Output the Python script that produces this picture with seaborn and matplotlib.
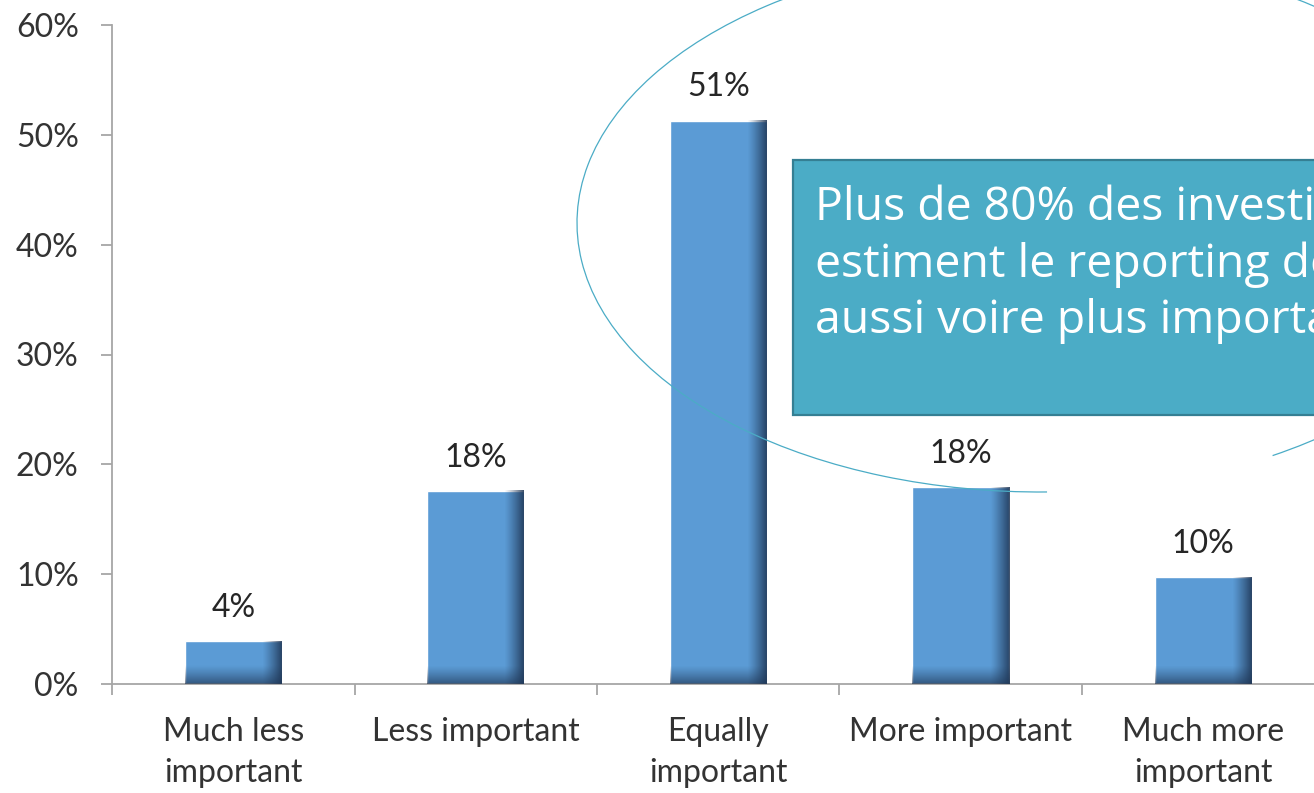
import numpy as np
import matplotlib
matplotlib.use('Agg')
import matplotlib.pyplot as plt
import seaborn as sns
from matplotlib.patches import Arc, Rectangle
from matplotlib.ticker import PercentFormatter, FixedLocator

# data
categories = ['Much less\nimportant', 'Less important', 'Equally\nimportant',
              'More important', 'Much more\nimportant']
shares = [3.9, 17.6, 51.3, 17.9, 9.7]
share_labels = ['4%', '18%', '51%', '18%', '10%']
y_ticks = [0, 10, 20, 30, 40, 50, 60]
callout_lines = ['Plus de 80% des investisseurs',
                 'estiment le reporting de durabilité',
                 'aussi voire plus important']

sns.set_style('white')
plt.rcParams['font.family'] = ['Lato', 'DejaVu Sans']

W, H = 1314, 793
fig = plt.figure(figsize=(W / 100, H / 100), dpi=100)
ax = fig.add_axes([112 / W, (H - 684) / H, (W - 112) / W, 659 / H])

bar_blue = '#5B9BD5'
sns.barplot(x=categories, y=shares, color=bar_blue, saturation=1,
            width=0.4, ax=ax, zorder=2)

ax.set_ylim(0, 60)
xlim = (-0.5, -0.5 + (W - 112) / 242.5)
ax.set_xlim(*xlim)

# shading on the right edge and the base of each bar
ax.figure.canvas.draw()
for p in ax.patches:
    bb = p.get_window_extent()
    nx, ny = max(int(bb.width), 2), max(int(bb.height), 2)
    dr = (nx - 1 - np.arange(nx))[None, :].astype(float)
    db = np.arange(ny)[:, None].astype(float)
    a_r = np.clip(1 - dr / 19, 0, 1) ** 1.2 * 0.85
    a_b = np.clip(1 - db / 18, 0, 1) ** 1.2 * 0.65
    alpha = 1 - (1 - a_r) * (1 - a_b)
    img = np.zeros((ny, nx, 4))
    img[..., 0], img[..., 1], img[..., 2] = 0.12, 0.21, 0.33
    img[..., 3] = alpha
    x0, y0 = p.get_x(), p.get_y()
    ax.imshow(img, extent=[x0, x0 + p.get_width(), y0, y0 + p.get_height()],
              origin='lower', aspect='auto', interpolation='bilinear', zorder=3)
ax.set_xlim(*xlim)
ax.set_ylim(0, 60)

ax.bar_label(ax.containers[0], labels=share_labels, padding=13,
             fontsize=23, color='#262626')

# axes styling
sns.despine(ax=ax, top=True, right=True)
for s in ['left', 'bottom']:
    ax.spines[s].set_color('#A6A6A6')
    ax.spines[s].set_linewidth(1.3)
ax.set_yticks(y_ticks)
ax.yaxis.set_major_formatter(PercentFormatter(decimals=0))
ax.tick_params(axis='y', length=8, width=1.3, color='#A6A6A6', pad=16,
               labelsize=23, labelcolor='#333333', left=True)
ax.xaxis.set_major_locator(FixedLocator(np.arange(len(categories)) - 0.5))
ax.xaxis.set_minor_locator(FixedLocator(np.arange(len(categories))))
ax.set_xticklabels([''] * len(categories))
ax.set_xticklabels(categories, minor=True, linespacing=1.45)
ax.tick_params(axis='x', which='major', length=8, width=1.3, color='#A6A6A6',
               bottom=True)
ax.tick_params(axis='x', which='minor', length=0, pad=24, labelsize=23,
               labelcolor='#333333')
ax.set_xlabel('')
ax.set_ylabel('')

# overlay in pixel coordinates for the ellipse and the callout box
ov = fig.add_axes([0, 0, 1, 1], facecolor='none')
ov.set_xlim(0, W)
ov.set_ylim(H, 0)
ov.axis('off')
ov.add_patch(Arc((1040, 223), 2 * 463, 2 * 269, theta1=88.5, theta2=405,
                 color='#4BACC6', lw=0.9, zorder=1))
ov.add_patch(Rectangle((793, 160), 700, 255, facecolor='#4BACC6',
                       edgecolor='#357F93', lw=1.6, zorder=2))
for i, line in enumerate(callout_lines):
    ov.text(815, 220 + 56.5 * i, line, color='white', fontsize=33.4,
            family='Open Sans', va='baseline', ha='left', zorder=3)

fig.savefig('out.png', dpi=100)
